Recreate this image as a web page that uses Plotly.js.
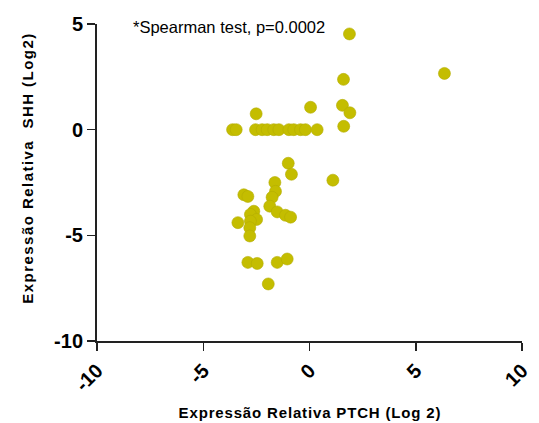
<!DOCTYPE html>
<html>
<head>
<meta charset="utf-8">
<script src="https://cdn.plot.ly/plotly-3.0.1.min.js"></script>
<style>html,body{margin:0;padding:0;background:#fff;}#chart{width:539px;height:423px;}</style>
</head>
<body>
<div id="chart"></div>
<script>
// PTCH relative expression (log2)
const ptch = [
  1.88, 6.35, 1.60, 1.55, 1.90, 1.61, 0.05, -2.51,
  -3.62, -3.45, -2.54, -2.23, -1.99, -1.68, -1.44, -0.97, -0.74, -0.42, -0.19, 0.36,
  -1.00, -0.85, 1.10, -1.63, -1.60, -3.09, -2.90, -1.76, -1.87, -2.62,
  -1.52, -1.13, -0.89, -2.78, -2.49, -3.37, -2.78, -2.81, -2.81,
  -2.90, -2.46, -1.52, -1.05, -1.94
];
// SHH relative expression (log2)
const shh = [
  4.53, 2.66, 2.38, 1.15, 0.80, 0.16, 1.06, 0.75,
  0.00, 0.00, 0.00, 0.00, 0.00, 0.00, 0.00, 0.00, 0.00, 0.00, 0.00, 0.00,
  -1.59, -2.11, -2.39, -2.50, -2.92, -3.08, -3.16, -3.20, -3.62, -3.86,
  -3.89, -4.05, -4.14, -4.01, -4.25, -4.40, -4.33, -4.64, -5.03,
  -6.28, -6.33, -6.28, -6.12, -7.30
];
const xTicks = [-10, -5, 0, 5, 10];
const yTicks = [-10, -5, 0, 5];
const note = "*Spearman test, p=0.0002";
const xTitle = "Expressão Relativa PTCH (Log 2)";
const yTitle = "Expressão Relativa  SHH (Log2)";

const font = "Liberation Sans, Arial, sans-serif";
const trace = {
  x: ptch, y: shh, type: "scatter", mode: "markers",
  marker: {size: 12, color: "#c4bd00", line: {width: 0.6, color: "#b3ac00"}},
  hoverinfo: "skip"
};
const layout = {
  width: 539, height: 423,
  margin: {l: 97, r: 17, t: 24, b: 82},
  paper_bgcolor: "#fff", plot_bgcolor: "#fff",
  showlegend: false,
  xaxis: {
    range: [-10, 10], tickvals: xTicks, ticktext: xTicks.map(String),
    showgrid: false, zeroline: false, showline: true, linecolor: "#222", linewidth: 2,
    ticks: "outside", ticklen: 8, tickwidth: 1.5, tickcolor: "#222",
    tickangle: -45, tickfont: {family: font, size: 20, color: "#000", weight: "bold"},
    title: {text: xTitle, font: {family: font, size: 15, color: "#000", weight: "bold"}, standoff: 18},
    automargin: false, fixedrange: true
  },
  yaxis: {
    range: [-10, 5], tickvals: yTicks, ticktext: yTicks.map(String),
    showgrid: false, zeroline: false, showline: true, linecolor: "#222", linewidth: 2,
    ticks: "outside", ticklen: 8, tickwidth: 1.5, tickcolor: "#222",
    tickfont: {family: font, size: 20, color: "#000", weight: "bold"},
    title: {text: yTitle, font: {family: font, size: 15, color: "#000", weight: "bold"}, standoff: 22},
    automargin: false, fixedrange: true
  },
  annotations: [{
    text: note, xref: "paper", yref: "paper", x: 0.08, y: 0.99,
    xanchor: "left", yanchor: "middle", showarrow: false,
    font: {family: font, size: 16.5, color: "#000"}
  }]
};

// Fit a title to the reference's spaced lettering and place its centre.
function fitTitle(sel, targetLen, cx, cy) {
  const t = document.querySelector(sel);
  if (!t) return;
  const n = t.textContent.length;
  const natural = t.getComputedTextLength();
  const sp = Math.max(0, (targetLen - natural) / (n - 1));
  t.style.letterSpacing = sp.toFixed(2) + "px";
  const g = t.parentNode;
  const r = t.getBoundingClientRect();
  const c = document.getElementById("chart").getBoundingClientRect();
  const dx = cx - (r.left - c.left + r.width / 2);
  const dy = cy - (r.top - c.top + r.height / 2);
  g.setAttribute("transform", "translate(" + dx.toFixed(1) + "," + dy.toFixed(1) + ")");
}

Plotly.newPlot("chart", [trace], layout, {staticPlot: true, displayModeBar: false}).then(function () {
  fitTitle(".g-xtitle text", 262, 310, 410);
  fitTitle(".g-ytitle text", 270, 27, 168);
});
</script>
</body>
</html>
